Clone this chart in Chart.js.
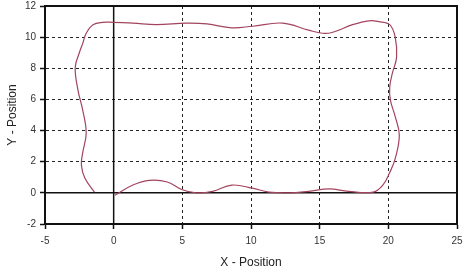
<!DOCTYPE html>
<html>
<head>
<meta charset="utf-8">
<script src="https://cdn.jsdelivr.net/npm/chart.js@4.4.1/dist/chart.umd.min.js"></script>
<style>
  html, body { margin: 0; padding: 0; background: #fff; }
  #wrap { width: 464px; height: 270px; }
</style>
</head>
<body>
<div id="wrap"><canvas id="chart"></canvas></div>
<script>
// traced outline, in path order (starts at bottom near x=0, runs counter-clockwise)
const xPos = [0.1, 1.4, 2.6, 3.9, 5.0, 6.0, 7.2, 8.6, 10.1, 11.3, 12.8, 14.2, 15.7, 17.1, 18.9,
  19.6, 20.1, 20.5, 20.8, 20.5, 20.15, 20.1, 20.3, 20.6, 20.5, 20.1, 19.3, 18.6, 17.4, 15.9,
  15.2, 14.2, 12.3, 10.1, 8.6, 6.8, 5.3, 3.1, 1.4, -0.05, -0.8, -1.5, -2.0, -2.25, -2.5, -2.8,
  -2.6, -2.25, -2.0, -2.25, -2.35, -2.1, -1.4];
const yPos = [-0.15, 0.5, 0.8, 0.7, 0.2, 0.0, 0.1, 0.5, 0.3, 0.05, 0.0, 0.1, 0.25, 0.1, 0.05,
  0.5, 1.3, 2.2, 3.7, 4.9, 5.95, 6.8, 7.7, 8.7, 10.0, 10.8, 11.0, 11.05, 10.8, 10.3,
  10.25, 10.45, 10.9, 10.7, 10.6, 10.85, 10.9, 10.8, 10.9, 10.95, 10.95, 10.8, 10.25, 9.6, 9.0, 8.05,
  6.6, 5.3, 3.85, 2.6, 1.8, 0.95, 0.05];

const xTicks = [-5, 0, 5, 10, 15, 20, 25];
const yTicks = [-2, 0, 2, 4, 6, 8, 10, 12];

const points = xPos.map((x, i) => ({ x: x, y: yPos[i] }));

// solid zero lines and solid frame on top of the dashed grid
const framePlugin = {
  id: 'frame',
  beforeDatasetsDraw(chart) {
    const { ctx, chartArea: a, scales } = chart;
    const x0 = scales.x.getPixelForValue(0);
    const y0 = scales.y.getPixelForValue(0);
    ctx.save();
    ctx.strokeStyle = '#111';
    ctx.lineWidth = 1.5;
    ctx.beginPath();
    ctx.moveTo(x0, a.top);
    ctx.lineTo(x0, a.bottom);
    ctx.moveTo(a.left, y0);
    ctx.lineTo(a.right, y0);
    ctx.stroke();
    ctx.lineWidth = 2;
    ctx.strokeRect(a.left, a.top, a.right - a.left, a.bottom - a.top);
    ctx.restore();
  }
};

const ctx = document.getElementById('chart').getContext('2d');
new Chart(ctx, {
  type: 'scatter',
  data: {
    datasets: [{
      data: points,
      showLine: true,
      borderColor: '#a3445f',
      borderWidth: 1.2,
      pointRadius: 0,
      tension: 0.4,
      fill: false
    }]
  },
  options: {
    animation: false,
    responsive: true,
    maintainAspectRatio: false,
    layout: { padding: { top: 6, right: 7, left: 0, bottom: 0 } },
    plugins: { legend: { display: false }, tooltip: { enabled: false } },
    scales: {
      x: {
        type: 'linear',
        min: -5,
        max: 25,
        afterBuildTicks: s => { s.ticks = xTicks.map(v => ({ value: v })); },
        afterFit: s => { s.height = 46; s.paddingLeft = 0; s.paddingRight = 0; },
        grid: { color: '#222', lineWidth: 1, tickLength: 5, tickColor: '#111', tickWidth: 1.5 },
        border: { color: '#111', width: 2, dash: [3, 3] },
        ticks: { color: '#333', padding: 6, maxRotation: 0, font: { family: 'Liberation Sans, Arial', size: 10 } },
        title: { display: true, text: 'X - Position', color: '#222', padding: { top: 0, bottom: 0 },
          font: { family: 'Liberation Sans, Arial', size: 12 } }
      },
      y: {
        type: 'linear',
        min: -2,
        max: 12,
        afterBuildTicks: s => { s.ticks = yTicks.map(v => ({ value: v })); },
        afterFit: s => { s.width = 45; s.paddingTop = 0; s.paddingBottom = 0; },
        grid: { color: '#222', lineWidth: 1, tickLength: 5, tickColor: '#111', tickWidth: 1.5 },
        border: { color: '#111', width: 2, dash: [3, 3] },
        ticks: { color: '#333', padding: 4, font: { family: 'Liberation Sans, Arial', size: 10 } },
        title: { display: true, text: 'Y - Position', color: '#222', padding: { top: 5, bottom: 0 },
          font: { family: 'Liberation Sans, Arial', size: 12 } }
      }
    }
  },
  plugins: [framePlugin]
});
</script>
</body>
</html>
